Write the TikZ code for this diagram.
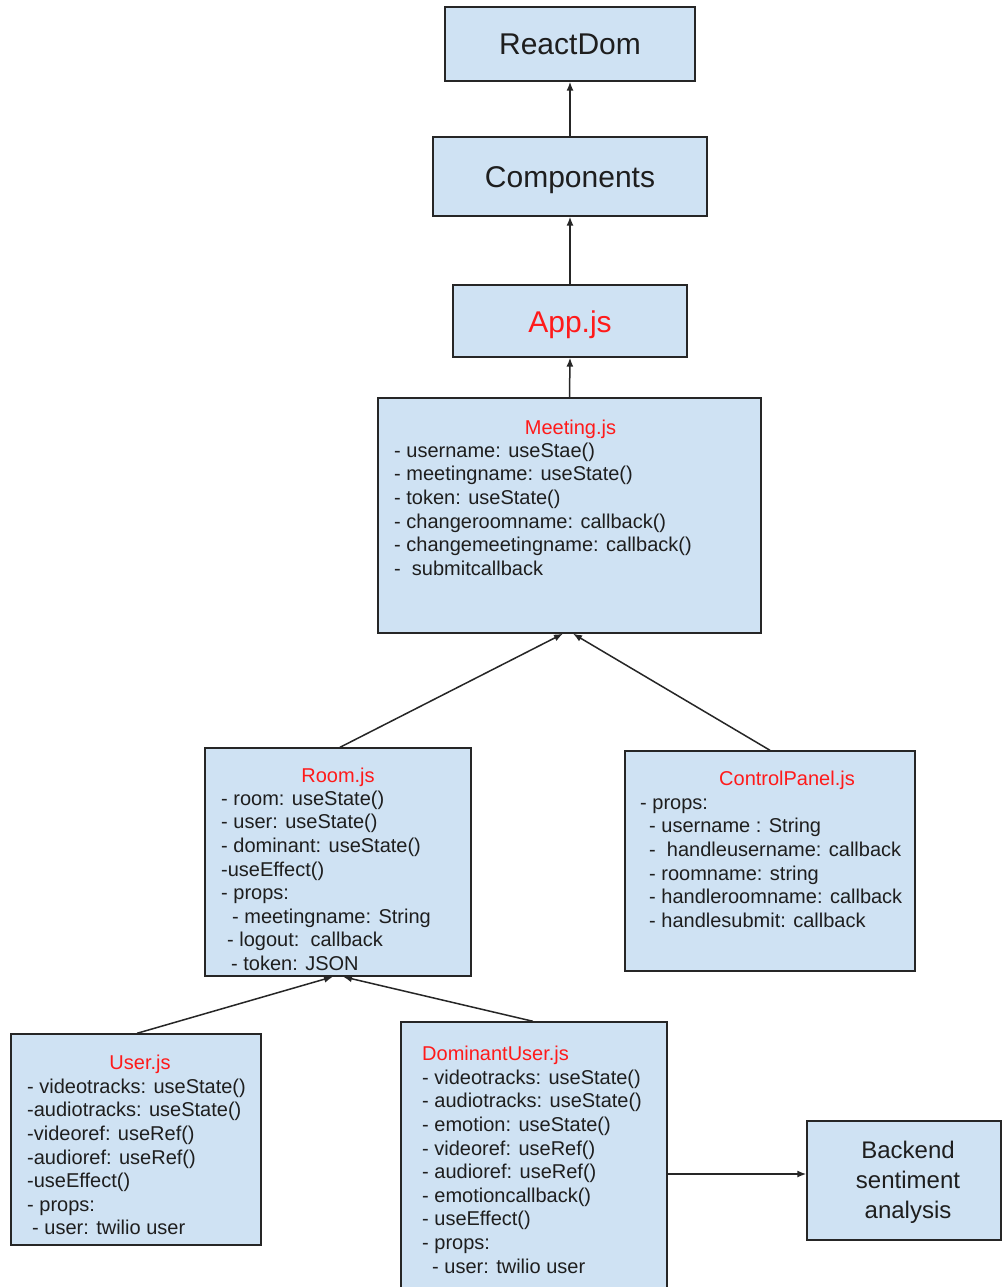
\documentclass[tikz,border=0pt]{standalone}
\usepackage{fontspec}
\setmainfont{Liberation Sans}
\usetikzlibrary{arrows.meta}
\definecolor{boxblue}{HTML}{CFE2F3}
\definecolor{titlered}{HTML}{FF1A1A}
\definecolor{txtcol}{HTML}{1E1E1E}
\definecolor{edgecol}{HTML}{262626}
\begin{document}
\begin{tikzpicture}[x=1pt,y=-1pt,
  mbox/.style={draw=edgecol, fill=boxblue, line width=1.4pt, inner sep=0pt, text=txtcol},
  bigtxt/.style={font=\fontsize{30}{36}\selectfont, text height=22pt, text depth=0pt},
  bodytxt/.style={anchor=north west, inner sep=0pt, align=left, text=txtcol, font=\fontsize{20}{23.6}\selectfont},
  titletxt/.style={anchor=base, inner sep=0pt, text=titlered, font=\fontsize{20}{23.6}\selectfont},
  conn/.style={draw=edgecol, line width=1.5pt, -{Latex[length=9pt,width=7pt]}}]
\useasboundingbox (0,0) rectangle (1002,1287);
\clip (0,0) rectangle (1002,1287);
\fill[white] (0,0) rectangle (1002,1287);

% boxes
\node[mbox, bigtxt, minimum width=250pt, minimum height=74pt] (rd) at (570,44) {ReactDom};
\node[mbox, bigtxt, minimum width=274pt, minimum height=79pt] (comp) at (570,176.5) {Components};
\node[mbox, bigtxt, minimum width=234pt, minimum height=72pt, text=titlered] (app) at (570,321) {App.js};
\node[mbox, minimum width=383pt, minimum height=235pt] (meet) at (569.5,515.5) {};
\node[mbox, minimum width=266pt, minimum height=228pt] (room) at (338,862) {};
\node[mbox, minimum width=290pt, minimum height=220pt] (cp) at (770,861) {};
\node[mbox, minimum width=250pt, minimum height=211pt] (user) at (136,1139.5) {};
\node[mbox, minimum width=266pt, minimum height=278pt] (dom) at (534,1161) {};
\node[mbox, minimum width=194pt, minimum height=119pt] (back) at (904,1180.5) {};
\node[align=center, inner sep=0pt, text=txtcol, font=\fontsize{24}{30}\selectfont] (backT) at (908,1182) {Backend\\sentiment\\analysis};

% Meeting.js
\node[titletxt] (meetT) at (570.5,434) {Meeting.js};
\node[bodytxt] (meetB) at (394,440.5) {\strut- username: useStae()\\
- meetingname: useState()\\
- token: useState()\\
- changeroomname: callback()\\
- changemeetingname: callback()\\
-\ \ submitcallback};

% Room.js
\node[titletxt] (roomT) at (338,782) {Room.js};
\node[bodytxt] (roomB) at (221,788.5) {\strut- room: useState()\\
- user: useState()\\
- dominant: useState()\\
-useEffect()\\
- props:\\
\hspace*{11pt}- meetingname: String\\
\hspace*{6pt}- logout:\ \ callback\\
\hspace*{10pt}- token: JSON};

% ControlPanel.js
\node[titletxt] (cpT) at (787,785) {ControlPanel.js};
\node[bodytxt] (cpB) at (640,792.5) {\strut- props:\\
\hspace*{9pt}- username : String\\
\hspace*{9pt}-\ \ handleusername: callback\\
\hspace*{9pt}- roomname: string\\
\hspace*{9pt}- handleroomname: callback\\
\hspace*{9pt}- handlesubmit: callback};

% User.js
\node[titletxt] (userT) at (140,1069) {User.js};
\node[bodytxt] (userB) at (27,1076.5) {\strut- videotracks: useState()\\
-audiotracks: useState()\\
-videoref: useRef()\\
-audioref: useRef()\\
-useEffect()\\
- props:\\
\hspace*{5pt}- user: twilio user};

% DominantUser.js
\node[titletxt, anchor=base west] (domT) at (422,1060) {DominantUser.js};
\node[bodytxt] (domB) at (422,1067.5) {\strut- videotracks: useState()\\
- audiotracks: useState()\\
- emotion: useState()\\
- videoref: useRef()\\
- audioref: useRef()\\
- emotioncallback()\\
- useEffect()\\
- props:\\
\hspace*{10pt}- user: twilio user};

% connectors
\draw[conn] (comp.north) -- (rd.south);
\draw[conn] (app.north) -- (comp.south);
\draw[conn] (meet.north) -- (app.south);
\draw[conn] ([xshift=2pt]room.north) -- ([xshift=-6.5pt]meet.south);
\draw[conn] (cp.north) -- ([xshift=3.5pt]meet.south);
\draw[conn] ([xshift=1pt]user.north) -- ([xshift=-5pt]room.south);
\draw[conn] ([xshift=-1pt]dom.north) -- ([xshift=5pt]room.south);
\coordinate (bk) at (0,1174);
\draw[conn] (dom.east |- bk) -- (back.west |- bk);
\end{tikzpicture}
\end{document}
